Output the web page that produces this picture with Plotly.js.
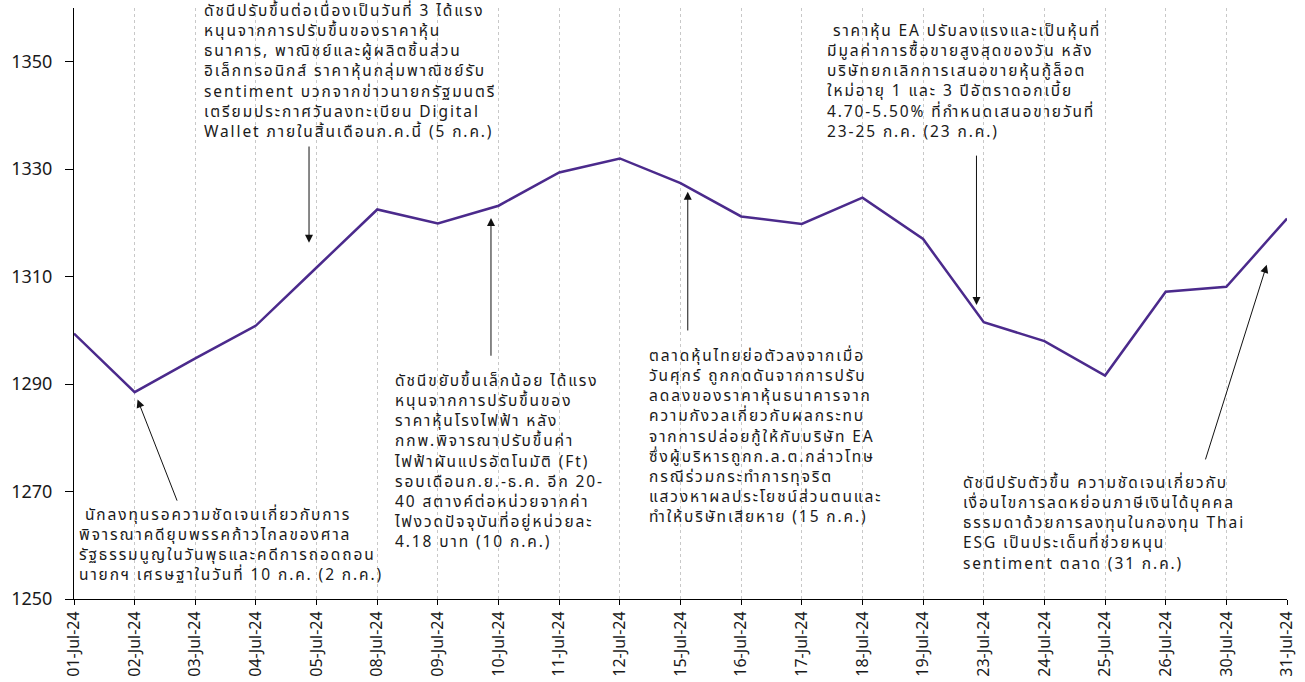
<!DOCTYPE html>
<html>
<head>
<meta charset="utf-8">
<script src="https://cdn.plot.ly/plotly-3.0.1.min.js"></script>
<style>
html,body{margin:0;padding:0;background:#fff;}
#chart{width:1305px;height:682px;}
#chart .annotation-text{letter-spacing:1.9px;}
</style>
</head>
<body>
<div id="chart"></div>
<script>
const categories = ["01-Jul-24","02-Jul-24","03-Jul-24","04-Jul-24","05-Jul-24","08-Jul-24","09-Jul-24","10-Jul-24","11-Jul-24","12-Jul-24","15-Jul-24","16-Jul-24","17-Jul-24","18-Jul-24","19-Jul-24","23-Jul-24","24-Jul-24","25-Jul-24","26-Jul-24","30-Jul-24","31-Jul-24"];
const setIndex = [1299.4,1288.5,1294.8,1300.9,1311.7,1322.5,1319.9,1323.2,1329.4,1332.0,1327.4,1321.2,1319.8,1324.7,1317.0,1301.5,1298.0,1291.6,1307.2,1308.1,1320.8];
const yTicks = [1250,1270,1290,1310,1330,1350];

const notes = [
  "\u00a0นักลงทุนรอความชัดเจนเกี่ยวกับการ<br>พิจารณาคดียุบพรรคก้าวไกลของศาล<br>รัฐธรรมนูญในวันพุธและคดีการถอดถอน<br>นายกฯ เศรษฐาในวันที่ 10 ก.ค. (2 ก.ค.)",
  "ดัชนีปรับขึ้นต่อเนื่องเป็นวันที่ 3 ได้แรง<br>หนุนจากการปรับขึ้นของราคาหุ้น<br>ธนาคาร, พาณิชย์และผู้ผลิตชิ้นส่วน<br>อิเล็กทรอนิกส์ ราคาหุ้นกลุ่มพาณิชย์รับ<br>sentiment บวกจากข่าวนายกรัฐมนตรี<br>เตรียมประกาศวันลงทะเบียน Digital<br>Wallet ภายในสิ้นเดือนก.ค.นี้ (5 ก.ค.)",
  "ดัชนีขยับขึ้นเล็กน้อย ได้แรง<br>หนุนจากการปรับขึ้นของ<br>ราคาหุ้นโรงไฟฟ้า หลัง<br>กกพ.พิจารณาปรับขึ้นค่า<br>ไฟฟ้าผันแปรอัตโนมัติ (Ft)<br>รอบเดือนก.ย.-ธ.ค. อีก 20-<br>40 สตางค์ต่อหน่วยจากค่า<br>ไฟงวดปัจจุบันที่อยู่หน่วยละ<br>4.18 บาท (10 ก.ค.)",
  "ตลาดหุ้นไทยย่อตัวลงจากเมื่อ<br>วันศุกร์ ถูกกดดันจากการปรับ<br>ลดลงของราคาหุ้นธนาคารจาก<br>ความกังวลเกี่ยวกับผลกระทบ<br>จากการปล่อยกู้ให้กับบริษัท EA<br>ซึ่งผู้บริหารถูกก.ล.ต.กล่าวโทษ<br>กรณีร่วมกระทำการทุจริต<br>แสวงหาผลประโยชน์ส่วนตนและ<br>ทำให้บริษัทเสียหาย (15 ก.ค.)",
  "\u00a0ราคาหุ้น EA ปรับลงแรงและเป็นหุ้นที่<br>มีมูลค่าการซื้อขายสูงสุดของวัน หลัง<br>บริษัทยกเลิกการเสนอขายหุ้นกู้ล็อต<br>ใหม่อายุ 1 และ 3 ปีอัตราดอกเบี้ย<br>4.70-5.50% ที่กำหนดเสนอขายวันที่<br>23-25 ก.ค. (23 ก.ค.)",
  "ดัชนีปรับตัวขึ้น ความชัดเจนเกี่ยวกับ<br>เงื่อนไขการลดหย่อนภาษีเงินได้บุคคล<br>ธรรมดาด้วยการลงทุนในกองทุน Thai<br>ESG เป็นประเด็นที่ช่วยหนุน<br>sentiment ตลาด (31 ก.ค.)"
];

const FONT = "'Noto Sans', 'Noto Sans Thai', sans-serif";
const txtFont = {family: FONT, size: 15.5, color: '#1a1a1a'};

// text block positions: [x (category index), y, yref]
const textPos = [[0.05,1268.3,'y'],[2.11,1.0183,'paper'],[5.24,1293.1,'y'],[9.44,1297.8,'y'],[12.39,1358.4,'y'],[14.62,1274.25,'y']];
const annotations = notes.map((t,i)=>({
  text:t, x:textPos[i][0], y:textPos[i][1], xref:'x', yref:textPos[i][2],
  xanchor:'left', yanchor:'top', align:'left', showarrow:false, font:txtFont
}));

// arrows: [headX, headY, tailX, tailY]
const arrows = [[3.875,1316.3,3.875,1334.5],[6.875,1320.9,6.875,1295.0],[10.12,1325.8,10.12,1299.7],[14.88,1304.7,14.88,1332.8],[19.666,1312.2,18.648,1275.7]];
arrows.forEach(a=>annotations.push({
  text:'', x:a[0], y:a[1], ax:a[2], ay:a[3], xref:'x', yref:'y', axref:'x', ayref:'y',
  showarrow:true, arrowhead:2, arrowsize:1.6, arrowwidth:1, arrowcolor:'#111'
}));
annotations.push({
  text:'', x:categories[1], y:setIndex[1], ax:43, ay:110, xref:'x', yref:'y',
  showarrow:true, arrowhead:2, arrowsize:1.6, arrowwidth:1, arrowcolor:'#111', standoff:8
});

const trace = {
  x: categories, y: setIndex, type:'scatter', mode:'lines',
  line:{color:'#4b2a8c', width:2.5}, hoverinfo:'skip'
};

const layout = {
  width:1305, height:682,
  margin:{l:74, r:18, t:8, b:83},
  paper_bgcolor:'#fff', plot_bgcolor:'#fff',
  showlegend:false,
  font:{family:FONT, color:'#1a1a1a'},
  xaxis:{
    type:'category', range:[0, categories.length-1],
    showgrid:true, gridcolor:'#c8c8c8', griddash:'dot', gridwidth:1,
    showline:true, linecolor:'#000', linewidth:1,
    ticks:'outside', ticklen:5, tickcolor:'#000',
    tickangle:-90, tickfont:{family:FONT, size:16, color:'#1a1a1a'},
    zeroline:false
  },
  yaxis:{
    range:[1250,1360], tickvals:yTicks,
    showgrid:false, zeroline:false,
    showline:true, linecolor:'#000', linewidth:1,
    ticks:'outside', ticklen:8, tickcolor:'#000', ticklabelstandoff:9,
    tickfont:{family:FONT, size:18, color:'#1a1a1a'}
  },
  annotations: annotations
};

Plotly.newPlot('chart',[trace],layout,{staticPlot:true, displayModeBar:false});
</script>
</body>
</html>
